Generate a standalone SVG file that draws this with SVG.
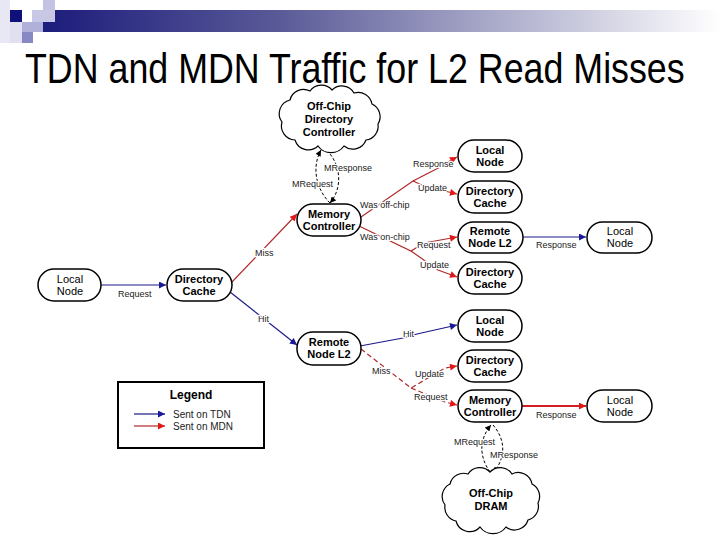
<svg xmlns="http://www.w3.org/2000/svg" width="720" height="540" viewBox="0 0 720 540">
<defs>
<linearGradient id="bar" x1="0" y1="0" x2="1" y2="0">
<stop offset="0" stop-color="#1c1c7c"/>
<stop offset="0.35" stop-color="#5a5a98"/>
<stop offset="1" stop-color="#ffffff"/>
</linearGradient>
<marker id="ab" viewBox="0 0 10 10" refX="10" refY="5" markerWidth="9" markerHeight="7" markerUnits="userSpaceOnUse" orient="auto"><path d="M0,0 L10,5 L0,10 z" fill="#1a1a96"/></marker>
<marker id="ar" viewBox="0 0 10 10" refX="10" refY="5" markerWidth="9" markerHeight="7" markerUnits="userSpaceOnUse" orient="auto"><path d="M0,0 L10,5 L0,10 z" fill="#e01818"/></marker>
<marker id="ak" viewBox="0 0 10 10" refX="10" refY="5" markerWidth="7" markerHeight="6" markerUnits="userSpaceOnUse" orient="auto"><path d="M0,0 L10,5 L0,10 z" fill="#000"/></marker>
</defs>
<style>
.node rect{fill:#fff;stroke:#000;stroke-width:1.5}
.cloud{fill:#fff;stroke:#000;stroke-width:1.2}
.nt{font-family:"Liberation Sans",Arial,sans-serif;font-size:11px;font-weight:bold;text-anchor:middle;fill:#000}
.nn{font-weight:normal}
.lb{font-family:"Liberation Sans",Arial,sans-serif;font-size:9px;fill:#222;stroke:#fff;stroke-width:2.5px;paint-order:stroke;stroke-linejoin:round}
.b{fill:none;stroke:#1a1a86;stroke-width:1.2}
.r{fill:none;stroke:#b02a2a;stroke-width:1.2}
.rd{fill:none;stroke:#b02a2a;stroke-width:1.2;stroke-dasharray:5,3}
.k{fill:none;stroke:#000;stroke-width:1;stroke-dasharray:3,2}
</style>
<rect width="720" height="540" fill="#fff"/>
<g id="decoration">
<rect x="43" y="10" width="677" height="22" fill="url(#bar)"/>
<rect x="0" y="0" width="10" height="43" fill="#e8e8f4"/>
<rect x="10" y="10" width="12" height="12" fill="#10107a"/>
<rect x="10" y="22" width="12" height="21" fill="#e0e0f0"/>
<rect x="43" y="0" width="12" height="10" fill="#c4c4e2"/>
<rect x="32" y="10" width="23" height="12" fill="#c8c8e6"/>
<rect x="22" y="22" width="21" height="10" fill="#b0b0da"/>
<rect x="22" y="32" width="11" height="11" fill="#8888c4"/>
</g>
<text transform="translate(25,83) scale(1,1.2)" x="0" y="0" font-family="'Liberation Sans',Arial,sans-serif" font-size="35.8" fill="#000">TDN and MDN Traffic for L2 Read Misses</text>

<g id="connectors">
<line class="b" x1="101" y1="285" x2="166" y2="285" marker-end="url(#ab)"/>
<text class="lb" x="118" y="297">Request</text>
<line class="b" x1="230" y1="292" x2="297" y2="345" marker-end="url(#ab)"/>
<text class="lb" x="258" y="322">Hit</text>
<line class="r" x1="231" y1="283" x2="297" y2="214" marker-end="url(#ar)"/>
<text class="lb" x="255" y="256">Miss</text>

<path class="k" d="M330,203 C315,188 312,166 321,150" marker-end="url(#ak)"/>
<path class="k" d="M323,147 C342,162 343,188 330,203" marker-end="url(#ak)"/>
<text class="lb" x="324" y="171">MResponse</text>
<text class="lb" x="292" y="187">MRequest</text>

<path class="r" d="M361,217 L413,181 L452,161" />
<line class="r" x1="448" y1="162" x2="457" y2="157" marker-end="url(#ar)"/>
<path class="r" d="M413,181 L424,186 L457,194" marker-end="url(#ar)"/>
<text class="lb" x="413" y="167">Response</text>
<text class="lb" x="418" y="191">Update</text>
<text class="lb" x="360" y="208">Was off-chip</text>

<path class="r" d="M359,226 L411,251 L424,243 L457,237" marker-end="url(#ar)"/>
<path class="r" d="M411,251 L438,270 L457,277" marker-end="url(#ar)"/>
<text class="lb" x="360" y="240">Was on-chip</text>
<text class="lb" x="417" y="248">Request</text>
<text class="lb" x="420" y="268">Update</text>

<line class="b" x1="523" y1="237" x2="586" y2="237" marker-end="url(#ab)"/>
<text class="lb" x="536" y="248">Response</text>

<path class="b" d="M360,346 L403,338 L417,334 L457,325" marker-end="url(#ab)"/>
<text class="lb" x="403" y="337">Hit</text>

<path class="rd" d="M361,349 L411,388 L445,368 L457,366" marker-end="url(#ar)"/>
<path class="rd" d="M411,388 L445,402 L457,405" marker-end="url(#ar)"/>
<text class="lb" x="372" y="374">Miss</text>
<text class="lb" x="415" y="377">Update</text>
<text class="lb" x="414" y="400">Request</text>

<line x1="522" y1="406" x2="586" y2="406" stroke="#d02020" stroke-width="2" marker-end="url(#ar)"/>
<text class="lb" x="536" y="418">Response</text>

<path class="k" d="M490,472 C478,455 480,438 491,425" marker-end="url(#ak)"/>
<path class="k" d="M493,425 C506,440 506,458 493,473" marker-end="url(#ak)"/>
<text class="lb" x="454" y="445">MRequest</text>
<text class="lb" x="490" y="458">MResponse</text>
</g>

<g id="local-node-left" class="node"><rect x="38" y="269" width="63" height="32" rx="16"/><text class="nt nn" x="70" y="283">Local</text><text class="nt nn" x="70" y="295">Node</text></g>
<g id="dir-cache-left" class="node"><rect x="167" y="269" width="65" height="32" rx="16"/><text class="nt" x="199" y="283">Directory</text><text class="nt" x="199" y="295">Cache</text></g>

<g id="offchip-dir-ctrl">
<path class="cloud" d="M282,122 A14,14 0 0 1 290,100 A14,14 0 0 1 310,91 A14,14 0 0 1 332,90 A14,14 0 0 1 354,93 A14,14 0 0 1 372,104 A14,14 0 0 1 378,124 A14,14 0 0 1 366,140 A14,14 0 0 1 344,146 A16,16 0 0 1 318,146 A14,14 0 0 1 295,140 A14,14 0 0 1 282,122 Z"/>
<text class="nt" x="329" y="110">Off-Chip</text><text class="nt" x="329" y="123">Directory</text><text class="nt" x="329" y="136">Controller</text>
</g>

<g id="mem-ctrl-top" class="node"><rect x="297" y="204" width="64" height="32" rx="16"/><text class="nt" x="329" y="218">Memory</text><text class="nt" x="329" y="230">Controller</text></g>
<g id="local-node-1" class="node"><rect x="458" y="140" width="64" height="32" rx="16"/><text class="nt" x="490" y="154">Local</text><text class="nt" x="490" y="166">Node</text></g>
<g id="dir-cache-1" class="node"><rect x="458" y="181" width="64" height="32" rx="16"/><text class="nt" x="490" y="195">Directory</text><text class="nt" x="490" y="207">Cache</text></g>
<g id="remote-l2-1" class="node"><rect x="458" y="222" width="65" height="31" rx="15.5"/><text class="nt" x="490" y="235">Remote</text><text class="nt" x="490" y="247">Node L2</text></g>
<g id="dir-cache-2" class="node"><rect x="458" y="262" width="64" height="32" rx="16"/><text class="nt" x="490" y="276">Directory</text><text class="nt" x="490" y="288">Cache</text></g>
<g id="local-node-r1" class="node"><rect x="587" y="222" width="65" height="31" rx="15.5"/><text class="nt nn" x="620" y="235">Local</text><text class="nt nn" x="620" y="247">Node</text></g>

<g id="remote-l2-2" class="node"><rect x="297" y="332" width="64" height="33" rx="16"/><text class="nt" x="329" y="346">Remote</text><text class="nt" x="329" y="358">Node L2</text></g>
<g id="local-node-2" class="node"><rect x="458" y="310" width="64" height="32" rx="16"/><text class="nt" x="490" y="324">Local</text><text class="nt" x="490" y="336">Node</text></g>
<g id="dir-cache-3" class="node"><rect x="458" y="350" width="64" height="32" rx="16"/><text class="nt" x="490" y="364">Directory</text><text class="nt" x="490" y="376">Cache</text></g>
<g id="mem-ctrl-bottom" class="node"><rect x="458" y="390" width="64" height="32" rx="16"/><text class="nt" x="490" y="404">Memory</text><text class="nt" x="490" y="416">Controller</text></g>
<g id="local-node-r2" class="node"><rect x="587" y="390" width="65" height="32" rx="16"/><text class="nt nn" x="620" y="404">Local</text><text class="nt nn" x="620" y="416">Node</text></g>

<g id="offchip-dram">
<path class="cloud" d="M445,505 A14,14 0 0 1 450,484 A14,14 0 0 1 468,474 A14,14 0 0 1 490,472 A14,14 0 0 1 512,474 A14,14 0 0 1 532,484 A14,14 0 0 1 538,503 A14,14 0 0 1 528,520 A14,14 0 0 1 506,527 A16,16 0 0 1 480,527 A14,14 0 0 1 456,521 A14,14 0 0 1 445,505 Z"/>
<text class="nt" x="491" y="497">Off-Chip</text><text class="nt" x="491" y="510">DRAM</text>
</g>

<g id="legend">
<rect x="118" y="382" width="146" height="66" fill="#fff" stroke="#000" stroke-width="2"/>
<text x="191" y="399" font-family="'Liberation Sans',Arial,sans-serif" font-size="12" font-weight="bold" text-anchor="middle">Legend</text>
<line class="b" x1="134" y1="414" x2="165" y2="414" marker-end="url(#ab)"/>
<line class="r" x1="134" y1="426" x2="165" y2="426" marker-end="url(#ar)"/>
<text x="173" y="418" font-family="'Liberation Sans',Arial,sans-serif" font-size="10" fill="#222">Sent on TDN</text>
<text x="173" y="430" font-family="'Liberation Sans',Arial,sans-serif" font-size="10" fill="#222">Sent on MDN</text>
</g>
</svg>
